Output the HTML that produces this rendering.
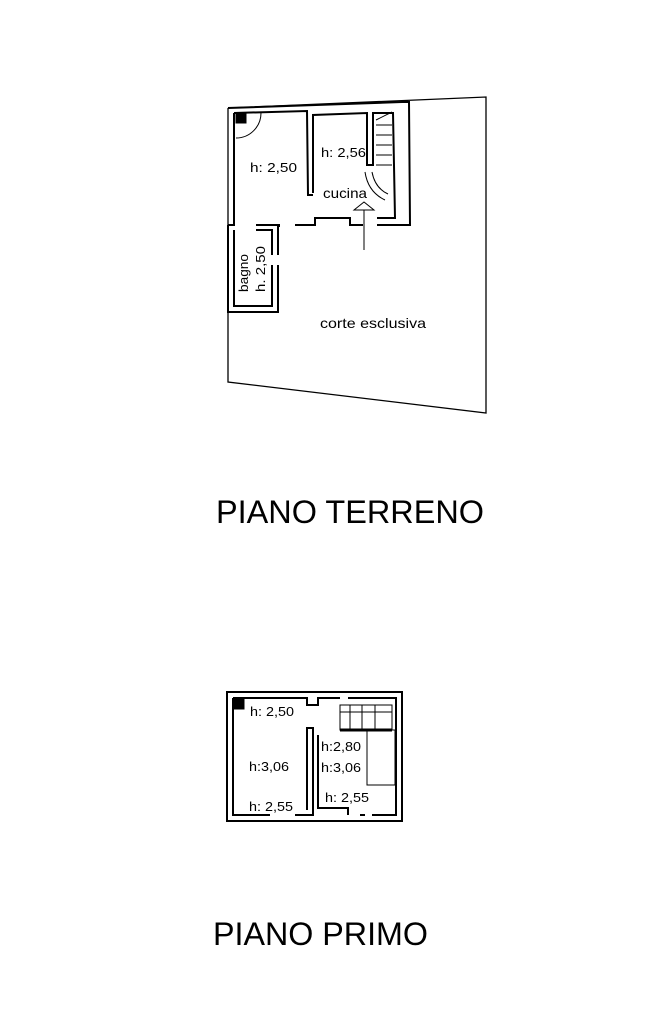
<!DOCTYPE html>
<html><head><style>
body{margin:0;background:#fff;width:648px;height:1024px;overflow:hidden}
svg{display:block}
text{font-family:"Liberation Sans",sans-serif;fill:#000;stroke:none}
</style></head><body>
<svg width="648" height="1024" viewBox="0 0 648 1024" fill="none" stroke="#000">
<polyline points="228,108 486,97 486,413 228,382 228,108" stroke-width="1.3"/>
<g stroke-width="2">
<polyline points="228,108 402,102 409,102 410,225 377,225"/>
<polyline points="234,113 307,111 308,195 313,195"/>
<polyline points="313,193 313,115 367,113 367,165 373,165 373,113 393,113 395,218 377,218"/>
<polyline points="363,225 350,225 350,218 315,218 315,225 300,225"/>
<polyline points="234,113 234,225 228,225"/>
<polyline points="228,225 228,312 278,312 278,265"/>
<polyline points="234,230 234,306 272,306 272,265"/>
<polyline points="272,255 272,230 256,230"/>
<polyline points="278,255 278,226 280,226"/>
<line x1="256" y1="225" x2="280" y2="225"/>
<line x1="295" y1="225" x2="315" y2="225"/>
</g>
<rect x="236" y="113" width="10" height="10" fill="#000"/>
<path d="M236 138 A25 25 0 0 0 261 113" stroke-width="1"/>
<g stroke-width="1">
<line x1="376" y1="125" x2="392" y2="125"/><line x1="376" y1="135" x2="392" y2="135"/>
<line x1="376" y1="145" x2="392" y2="145"/><line x1="376" y1="155" x2="392" y2="155"/>
<line x1="376" y1="165" x2="392" y2="165"/><line x1="376" y1="120" x2="392" y2="112"/>
<path d="M365 172 Q368 192 385 200"/><path d="M372 172 Q375 188 388 194"/>
<line x1="364" y1="210" x2="364" y2="250"/>
<polygon points="354,210 364,202 374,210"/>
</g>
<g lengthAdjust="spacingAndGlyphs">
<text x="250" y="172" font-size="13" textLength="47" lengthAdjust="spacingAndGlyphs">h: 2,50</text>
<text x="321" y="157" font-size="13" textLength="45" lengthAdjust="spacingAndGlyphs">h: 2,56</text>
<text x="323" y="198" font-size="14" textLength="44" lengthAdjust="spacingAndGlyphs">cucina</text>
<text transform="translate(248,292) rotate(-90)" font-size="13" textLength="38" lengthAdjust="spacingAndGlyphs">bagno</text>
<text transform="translate(265,292) rotate(-90)" font-size="13" textLength="46" lengthAdjust="spacingAndGlyphs">h. 2,50</text>
<text x="320" y="328" font-size="14" textLength="106" lengthAdjust="spacingAndGlyphs">corte esclusiva</text>
<text x="216" y="523" font-size="32" textLength="268" lengthAdjust="spacingAndGlyphs">PIANO TERRENO</text>
</g>
<g stroke-width="2">
<rect x="227" y="692" width="175" height="129"/>
<polyline points="233,698 307,698 307,705 318,705 318,698 340,698"/>
<polyline points="348,698 396,698 396,815 372,815"/>
<polyline points="233,698 233,815 270,815"/>
<polyline points="295,815 313,815 313,728 307,728 307,810"/>
<polyline points="318,735 318,808 348,808 348,815"/>
<line x1="360" y1="815" x2="365" y2="815"/>
</g>
<rect x="234" y="699" width="10" height="10" fill="#000"/>
<g stroke-width="1">
<rect x="340" y="705" width="52" height="25"/>
<line x1="340" y1="712" x2="392" y2="712"/><line x1="350" y1="705" x2="350" y2="730"/>
<line x1="362" y1="705" x2="362" y2="730"/><line x1="375" y1="705" x2="375" y2="730"/>
<rect x="367" y="730" width="28" height="55"/>
</g>
<line x1="340" y1="730" x2="392" y2="730" stroke-width="3"/>
<text x="250" y="716" font-size="13" textLength="44" lengthAdjust="spacingAndGlyphs">h: 2,50</text>
<text x="249" y="771" font-size="13" textLength="40" lengthAdjust="spacingAndGlyphs">h:3,06</text>
<text x="249" y="811" font-size="13" textLength="44" lengthAdjust="spacingAndGlyphs">h: 2,55</text>
<text x="321" y="751" font-size="13" textLength="40" lengthAdjust="spacingAndGlyphs">h:2,80</text>
<text x="321" y="772" font-size="13" textLength="40" lengthAdjust="spacingAndGlyphs">h:3,06</text>
<text x="325" y="802" font-size="13" textLength="44" lengthAdjust="spacingAndGlyphs">h: 2,55</text>
<text x="213" y="945" font-size="32" textLength="215" lengthAdjust="spacingAndGlyphs">PIANO PRIMO</text>
</svg>
</body></html>
